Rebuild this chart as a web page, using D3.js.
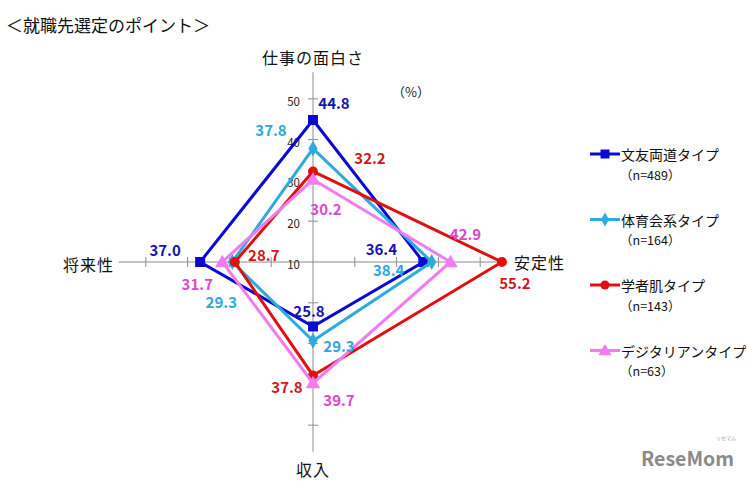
<!DOCTYPE html>
<html><head><meta charset="utf-8">
<script src="https://cdn.jsdelivr.net/npm/d3@7"></script>
<style>body{margin:0;background:#fff}svg{display:block}text{font-family:"Noto Sans CJK JP","Noto Sans",sans-serif}</style>
</head><body>
<script>
const title = "＜就職先選定のポイント＞";
const axesNames = ["仕事の面白さ", "安定性", "収入", "将来性"];
const tickValues = [10, 20, 30, 40, 50];
const seriesNames = ["文友両道タイプ", "体育会系タイプ", "学者肌タイプ", "デジタリアンタイプ"];
const seriesN = ["（n=489）", "（n=164）", "（n=143）", "（n=63）"];
const bunbu = [44.8, 36.4, 25.8, 37.0];
const taiiku = [37.8, 38.4, 29.3, 29.3];
const gakusha = [32.2, 55.2, 37.8, 28.7];
const digital = [30.2, 42.9, 39.7, 31.7];
const seriesValues = [bunbu, taiiku, gakusha, digital];

// styling / layout (not data)
const lineColors = ["#0a0ad0", "#2eaadc", "#e01010", "#f07cf0"];
const labelColors = ["#1414b4", "#2ea8d8", "#d01818", "#dc48cc"];
const markers = ["square", "diamond", "circle", "triangle"];
// label offsets [dx,dy] relative to each point, per series per axis
const labelOffsets = [
  [[21,-18],[-42,-14],[-4,-16],[-35,-13]],
  [[-42,-19],[-43,7],[26,5],[-11,39]],
  [[57,-14],[13,20],[-26,11],[29,-8]],
  [[13,29],[15,-29],[26,16],[-25,21]]
];

const W = 747, H = 481, cx = 313, cy = 262;
const svg = d3.select("body").append("svg").attr("width", W).attr("height", H);

const rY = d3.scaleLinear().domain([10, 60]).range([0, 204]);
const rX = d3.scaleLinear().domain([10, 60]).range([0, 209]);
const axisMax = 56.5;
const angles = axesNames.map((d, i) => i * Math.PI / 2);
function pt(v, i) {
  const a = angles[i];
  return [cx + Math.sin(a) * rX(v), cy - Math.cos(a) * rY(v)];
}

svg.append("text").attr("x", 6).attr("y", 24).attr("dominant-baseline", "central")
  .attr("font-size", 17).attr("fill", "#111").text(title);

// axes
const gAxes = svg.append("g");
axesNames.forEach((name, i) => {
  const end = pt(axisMax, i);
  gAxes.append("line").attr("x1", cx).attr("y1", cy).attr("x2", end[0]).attr("y2", end[1])
    .attr("stroke", "#8c8c8c").attr("stroke-width", 1);
  tickValues.slice(1).forEach(t => {
    const p = pt(t, i);
    const vert = (i % 2 === 0);
    gAxes.append("line")
      .attr("x1", vert ? p[0] - 5 : p[0]).attr("x2", vert ? p[0] + 5 : p[0])
      .attr("y1", vert ? p[1] : p[1] - 5).attr("y2", vert ? p[1] : p[1] + 5)
      .attr("stroke", "#8c8c8c").attr("stroke-width", 1);
  });
});
// tick labels on top axis
tickValues.forEach(t => {
  const p = pt(t, 0);
  gAxes.append("text").attr("x", p[0] - 13).attr("y", p[1] + 2).attr("text-anchor", "end")
    .attr("dominant-baseline", "central").attr("font-size", 11.5).attr("fill", "#222").text(t);
});
// axis names
const namePos = [[0, -205, "middle"], [201, 0, "start"], [0, 207, "middle"], [-250, 2, "start"]];
axesNames.forEach((name, i) => {
  svg.append("text").attr("x", cx + namePos[i][0]).attr("y", cy + namePos[i][1])
    .attr("text-anchor", namePos[i][2]).attr("dominant-baseline", "central")
    .attr("font-size", 16).attr("fill", "#111").attr("letter-spacing", 1).text(name);
});
svg.append("text").attr("x", 411).attr("y", 91).attr("text-anchor", "middle")
  .attr("dominant-baseline", "central").attr("font-size", 13).attr("fill", "#222").text("（%）");

function drawMarker(g, type, x, y, color, s) {
  if (type === "square") {
    g.append("rect").attr("x", x - s / 2).attr("y", y - s / 2).attr("width", s).attr("height", s).attr("fill", color);
  } else if (type === "diamond") {
    g.append("path").attr("d", d3.symbol(d3.symbolDiamond, s * s * 0.9)()).attr("transform", `translate(${x},${y})`).attr("fill", color);
  } else if (type === "circle") {
    g.append("circle").attr("cx", x).attr("cy", y).attr("r", s / 2).attr("fill", color);
  } else {
    g.append("path").attr("d", d3.symbol(d3.symbolTriangle, s * s * 0.75)()).attr("transform", `translate(${x},${y + 1})`).attr("fill", color);
  }
}
const markerSizes = [10, 9, 10, 11];

// series
const line = d3.line().curve(d3.curveLinearClosed);
seriesValues.forEach((vals, si) => {
  const g = svg.append("g");
  const pts = vals.map((v, i) => pt(v, i));
  g.append("path").attr("d", line(pts)).attr("fill", "none")
    .attr("stroke", lineColors[si]).attr("stroke-width", 3).attr("stroke-linejoin", "miter");
  pts.forEach(p => drawMarker(g, markers[si], p[0], p[1], lineColors[si], markerSizes[si]));
});
// labels
seriesValues.forEach((vals, si) => {
  vals.forEach((v, i) => {
    const p = pt(v, i);
    svg.append("text").attr("x", p[0] + labelOffsets[si][i][0]).attr("y", p[1] + labelOffsets[si][i][1])
      .attr("text-anchor", "middle").attr("dominant-baseline", "central")
      .attr("font-family", "'Liberation Sans',Arial,sans-serif")
      .attr("font-size", 15).attr("font-weight", "bold").attr("fill", labelColors[si])
      .text(d3.format(".1f")(v));
  });
});

// legend
const lg = svg.append("g");
seriesNames.forEach((n, si) => {
  const y = 154 + si * 65.5;
  lg.append("line").attr("x1", 590).attr("x2", 620).attr("y1", y).attr("y2", y)
    .attr("stroke", lineColors[si]).attr("stroke-width", 3);
  drawMarker(lg, markers[si], 605, y, lineColors[si], markerSizes[si] - 1);
  lg.append("text").attr("x", 621).attr("y", y).attr("dominant-baseline", "central")
    .attr("font-size", 14).attr("fill", "#111").text(n);
  lg.append("text").attr("x", 620).attr("y", y + 20).attr("dominant-baseline", "central")
    .attr("font-size", 12.5).attr("fill", "#111").text(seriesN[si]);
});

// watermark
svg.append("text").attr("x", 641).attr("y", 466).attr("font-family", "'Liberation Sans',Arial,sans-serif")
  .attr("font-size", 19.5).attr("font-weight", "bold").attr("fill", "#8a8a8a").text("ReseMom");
svg.append("text").attr("x", 716).attr("y", 440).attr("font-size", 5).attr("fill", "#999").text("リセマム");
</script>
</body></html>
